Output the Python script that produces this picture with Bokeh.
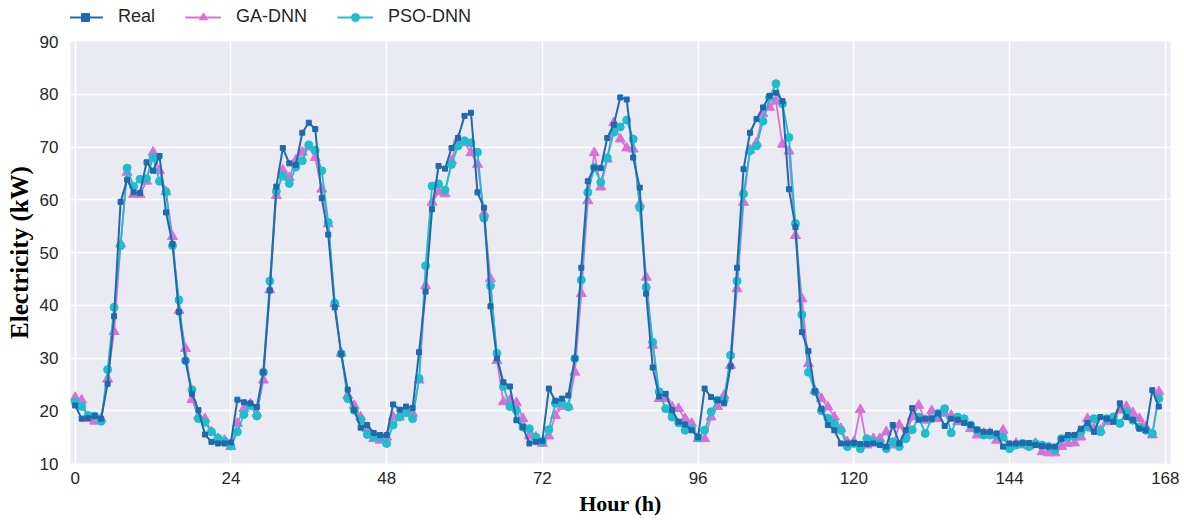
from bokeh.plotting import figure
from bokeh.models import Legend, LegendItem, FixedTicker, Range1d
from bokeh.layouts import column
from bokeh.embed import file_html
from bokeh.resources import INLINE

hours = list(range(168))

real = [
    21.0, 18.5, 18.6, 19.0, 18.5, 25.1, 37.9, 59.6, 63.8, 61.4,
    61.3, 67.1, 65.5, 68.3, 57.6, 51.6, 38.7, 29.5, 23.2, 20.1,
    15.5, 14.1, 13.8, 13.8, 14.0, 22.1, 21.6, 21.4, 20.7, 27.3,
    42.8, 62.5, 69.8, 66.9, 66.6, 72.7, 74.6, 73.4, 60.3, 53.4,
    39.6, 30.8, 24.0, 20.1, 16.8, 17.3, 15.8, 15.4, 15.4, 21.2,
    20.2, 20.8, 20.5, 31.1, 42.6, 58.2, 66.4, 65.9, 69.8, 71.7,
    75.9, 76.5, 61.4, 58.5, 39.8, 29.9, 25.4, 24.6, 18.2, 16.9,
    13.8, 14.1, 14.3, 24.2, 21.9, 22.3, 22.9, 29.9, 47.1, 63.5,
    66.1, 66.0, 71.7, 74.2, 79.4, 79.0, 68.0, 62.3, 42.2, 28.2,
    22.7, 23.2, 20.1, 17.9, 17.4, 16.3, 15.0, 24.2, 22.6, 22.0,
    21.4, 28.4, 47.1, 65.8, 72.7, 75.3, 77.5, 79.7, 80.3, 78.7,
    62.0, 54.8, 34.9, 31.3, 23.7, 20.4, 17.3, 16.3, 13.8, 13.8,
    13.9, 13.7, 13.7, 13.8, 13.5, 13.2, 17.3, 13.8, 16.3, 20.5,
    18.3, 18.5, 18.5, 19.5, 17.1, 18.5, 18.3, 17.7, 17.3, 16.4,
    16.0, 16.0, 15.7, 13.2, 13.8, 13.8, 13.9, 13.9, 13.5, 13.3,
    13.2, 13.2, 14.7, 15.4, 15.4, 16.6, 17.7, 16.0, 18.8, 18.5,
    17.9, 21.4, 18.8, 18.3, 16.6, 16.3, 23.9, 20.8,
]

ga_dnn = [
    22.5, 22.0, 18.5, 18.0, 18.5, 26.0, 35.0, 51.6, 65.2, 61.0,
    61.0, 63.5, 69.0, 65.5, 61.5, 53.0, 39.0, 31.8, 22.1, 19.0,
    18.5, 16.0, 14.7, 14.4, 13.2, 17.6, 20.4, 21.3, 19.5, 25.8,
    42.9, 60.8, 65.6, 64.2, 67.5, 69.0, 70.0, 68.0, 62.0, 55.4,
    40.3, 30.9, 22.9, 21.0, 18.8, 16.6, 14.7, 14.4, 15.0, 18.8,
    18.8, 20.1, 19.5, 25.8, 43.7, 59.5, 61.5, 61.1, 67.4, 71.5,
    70.8, 68.9, 66.7, 57.4, 45.0, 29.5, 21.7, 22.0, 21.5, 18.5,
    15.2, 15.0, 13.8, 15.2, 19.1, 20.8, 20.8, 27.3, 42.2, 59.8,
    68.9, 62.4, 67.7, 74.6, 71.5, 69.8, 69.6, 59.2, 45.3, 32.4,
    22.3, 22.3, 20.7, 20.4, 18.5, 17.6, 14.7, 14.7, 18.8, 20.8,
    22.9, 28.6, 43.1, 59.5, 69.4, 70.8, 76.3, 77.5, 78.7, 70.5,
    69.2, 53.2, 41.2, 28.9, 23.8, 22.3, 20.7, 18.8, 16.6, 14.1,
    14.1, 20.2, 13.5, 14.7, 14.7, 16.0, 13.5, 17.3, 15.4, 18.8,
    21.0, 18.2, 20.0, 18.5, 19.5, 19.1, 17.9, 17.9, 16.6, 15.4,
    15.7, 15.7, 14.4, 16.3, 13.2, 13.8, 13.5, 13.3, 13.8, 12.2,
    12.0, 12.0, 13.2, 13.8, 13.9, 15.0, 18.5, 16.6, 16.3, 17.9,
    18.5, 20.1, 20.8, 19.6, 18.5, 16.9, 15.4, 23.6,
]

pso_dnn = [
    21.7, 20.8, 19.1, 19.0, 18.0, 27.8, 39.6, 51.3, 66.0, 62.5,
    63.9, 64.0, 68.0, 63.5, 61.5, 51.3, 41.0, 29.5, 24.0, 18.5,
    17.8, 16.0, 14.8, 14.2, 13.3, 16.0, 19.3, 21.0, 19.0, 27.3,
    44.6, 61.6, 64.5, 63.1, 66.2, 67.4, 70.4, 69.4, 65.5, 55.7,
    40.4, 30.8, 22.3, 20.1, 18.3, 15.5, 15.0, 15.0, 13.8, 17.3,
    18.8, 19.6, 18.5, 26.1, 47.5, 62.6, 63.0, 61.8, 66.7, 70.2,
    71.2, 70.8, 69.0, 56.5, 43.7, 30.9, 24.6, 20.8, 20.1, 16.9,
    16.6, 15.0, 14.1, 16.4, 21.4, 21.5, 20.7, 29.9, 44.8, 61.4,
    66.1, 63.3, 67.9, 72.8, 73.8, 75.1, 71.5, 58.5, 43.4, 33.0,
    23.6, 20.4, 18.8, 17.7, 16.3, 16.6, 14.9, 16.3, 19.8, 22.0,
    22.0, 30.5, 44.6, 61.1, 69.3, 70.2, 74.9, 79.4, 82.0, 78.2,
    71.8, 55.5, 38.2, 27.3, 23.6, 20.0, 18.6, 17.6, 16.3, 13.2,
    13.8, 12.8, 14.7, 14.1, 13.8, 12.8, 14.1, 13.2, 14.7, 16.4,
    18.8, 15.7, 18.5, 19.5, 20.4, 15.8, 18.8, 18.5, 17.3, 16.3,
    15.4, 15.4, 15.4, 15.0, 12.8, 13.5, 13.8, 13.2, 13.8, 13.5,
    13.2, 12.6, 14.7, 15.0, 15.2, 16.0, 16.9, 18.5, 16.0, 18.5,
    18.8, 17.6, 19.8, 18.2, 16.9, 16.3, 15.7, 22.3,
]

series_names = ["Real", "GA-DNN", "PSO-DNN"]
x_ticks = [0, 24, 48, 72, 96, 120, 144, 168]
y_ticks = [10, 20, 30, 40, 50, 60, 70, 80, 90]

REAL_C = "#1f6aad"
GA_C = "#da70d6"
PSO_C = "#1fbecd"

LEGEND_H = 34


def draw_series(fig):
    ga_l = fig.line(hours, ga_dnn, line_color=GA_C, line_width=1.8)
    ga_m = fig.scatter(hours, ga_dnn, marker="triangle", size=10, fill_color=GA_C, line_color=GA_C)
    pso_l = fig.line(hours, pso_dnn, line_color=PSO_C, line_width=1.8)
    pso_m = fig.scatter(hours, pso_dnn, marker="circle", size=8, fill_color=PSO_C, line_color=PSO_C)
    real_l = fig.line(hours, real, line_color=REAL_C, line_width=2)
    real_m = fig.scatter(hours, real, marker="square", size=5, fill_color=REAL_C, line_color=REAL_C)
    return [(real_l, real_m), (ga_l, ga_m), (pso_l, pso_m)]


# ---- main chart ----
p = figure(width=1184, height=520 - LEGEND_H, output_backend="svg", toolbar_location=None,
           x_range=Range1d(-0.72, 168.8), y_range=Range1d(10, 90),
           min_border_left=70, min_border_right=14, min_border_top=7,
           min_border_bottom=57)

p.background_fill_color = "#eaeaf2"
p.border_fill_color = "white"
p.outline_line_color = None
for g in (p.xgrid, p.ygrid):
    g.grid_line_color = "white"
    g.grid_line_width = 1.4

p.xaxis.ticker = FixedTicker(ticks=x_ticks)
p.yaxis.ticker = FixedTicker(ticks=y_ticks)
for ax in (p.xaxis, p.yaxis):
    ax.axis_line_color = None
    ax.major_tick_line_color = None
    ax.minor_tick_line_color = None
    ax.major_tick_out = 0
    ax.major_tick_in = 0
    ax.major_label_text_font = "Liberation Sans"
    ax.major_label_text_font_size = "17px"
    ax.major_label_text_color = "#262626"
    ax.axis_label_text_font = "Liberation Serif"
    ax.axis_label_text_font_style = "bold"
    ax.axis_label_text_color = "black"

p.xaxis.axis_label = "Hour (h)"
p.yaxis.axis_label = "Electricity (kW)"
p.xaxis.axis_label_text_font_size = "22px"
p.yaxis.axis_label_text_font_size = "25px"
p.xaxis.major_label_standoff = 8
p.yaxis.major_label_standoff = 12
p.xaxis.axis_label_standoff = 4
p.yaxis.axis_label_standoff = 4

draw_series(p)

# ---- legend strip (same series, drawn out of view; only its legend shows) ----
lg = figure(width=1184, height=LEGEND_H, output_backend="svg", toolbar_location=None,
            x_range=Range1d(-1000, -999), y_range=Range1d(-1000, -999),
            x_axis_type=None, y_axis_type=None,
            min_border_left=0, min_border_right=0, min_border_top=0, min_border_bottom=0)
lg.outline_line_color = None
lg.background_fill_color = "white"
lg.border_fill_color = "white"
lg.xgrid.visible = False
lg.ygrid.visible = False
pairs = draw_series(lg)

legend = Legend(items=[LegendItem(label=n, renderers=list(r)) for n, r in zip(series_names, pairs)],
                location=(-3, 7), orientation="horizontal")
legend.border_line_color = None
legend.background_fill_alpha = 0
legend.padding = 0
legend.margin = 0
legend.spacing = 30
legend.glyph_width = 36
legend.glyph_height = 20
legend.label_standoff = 15
legend.label_text_font = "Liberation Sans"
legend.label_text_font_size = "18px"
legend.label_text_color = "#262626"
lg.add_layout(legend)

layout = column(lg, p)
open("out.html", "w").write(file_html(layout, INLINE))
